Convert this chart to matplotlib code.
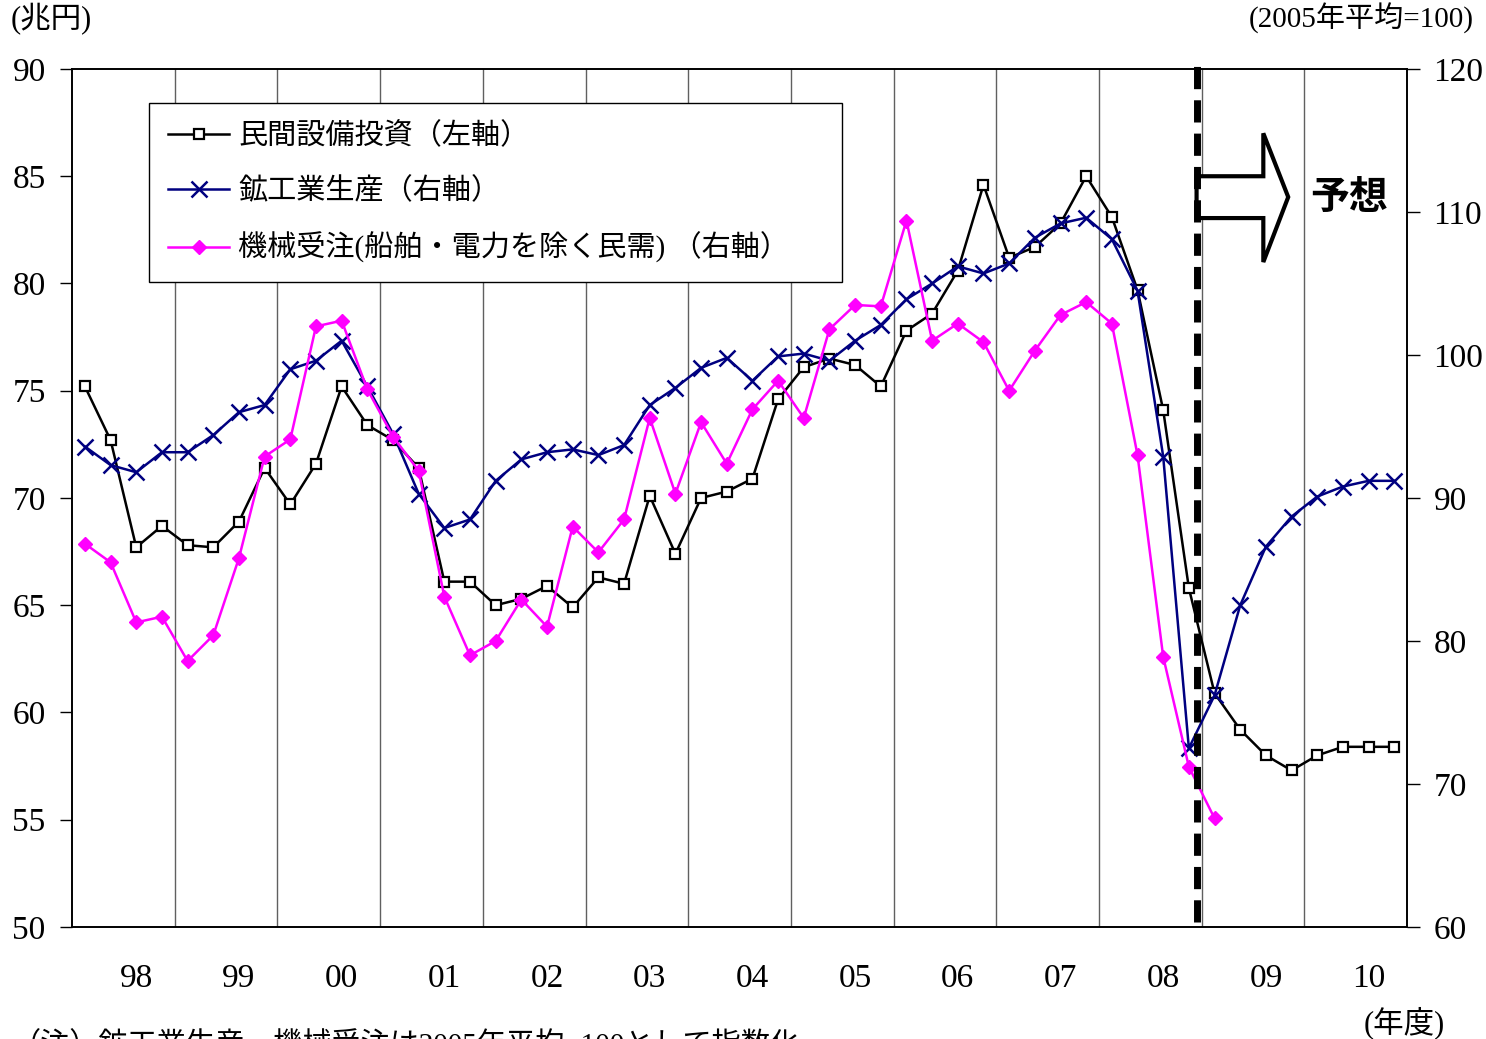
import numpy as np
import matplotlib.pyplot as plt
from matplotlib.patches import Polygon

plt.rcParams['font.family'] = ['Liberation Serif', 'Noto Sans CJK JP', 'DejaVu Sans']

# 年度ラベル（四半期データ、98年度～10年度）
years = ['98', '99', '00', '01', '02', '03', '04', '05', '06', '07', '08', '09', '10']

# 民間設備投資（兆円、左軸）
capex = [75.2, 72.7, 67.7, 68.7, 67.8, 67.7, 68.9, 71.4,
         69.7, 71.6, 75.2, 73.4, 72.7, 71.4, 66.1, 66.1,
         65.0, 65.3, 65.9, 64.9, 66.3, 66.0, 70.1, 67.4,
         70.0, 70.3, 70.9, 74.6, 76.1, 76.5, 76.2, 75.2,
         77.8, 78.6, 80.6, 84.6, 81.2, 81.7, 82.8, 85.0,
         83.1, 79.7, 74.1, 65.8, 60.9, 59.2, 58.0, 57.3,
         58.0, 58.4, 58.4, 58.4]

# 鉱工業生産（2005年平均=100、右軸）
ip = [93.6, 92.3, 91.8, 93.2, 93.2, 94.4, 96.0, 96.5,
      99.0, 99.6, 101.0, 97.8, 94.5, 90.3, 87.9, 88.5,
      91.2, 92.7, 93.2, 93.4, 93.0, 93.7, 96.5, 97.7,
      99.1, 99.8, 98.2, 99.9, 100.1, 99.6, 101.0, 102.1,
      103.9, 105.0, 106.2, 105.7, 106.4, 108.2, 109.2, 109.6,
      108.1, 104.5, 92.9, 72.5, 76.2, 82.5, 86.6, 88.7,
      90.1, 90.8, 91.2, 91.2]

# 機械受注（船舶・電力を除く民需、2005年平均=100、右軸）
orders = [86.8, 85.5, 81.3, 81.7, 78.6, 80.4, 85.8, 92.9,
          94.1, 102.0, 102.4, 97.6, 94.3, 91.9, 83.1, 79.0,
          80.0, 82.9, 81.0, 88.0, 86.2, 88.5, 95.6, 90.3,
          95.3, 92.4, 96.2, 98.2, 95.6, 101.8, 103.5, 103.4,
          109.4, 101.0, 102.2, 100.9, 97.5, 100.3, 102.8, 103.7,
          102.2, 93.0, 78.9, 71.2, 67.6]

q = np.arange(len(capex))
n_years = len(years)

fig = plt.figure(figsize=(14.86, 10.39), dpi=100)
ax = fig.add_axes([0.0485, 0.1078, 0.8984, 0.8258])
ax2 = ax.twinx()

# 年度の区切り線
bounds = np.arange(1, n_years) * 4 - 0.5
ax.set_xticks(bounds)
ax.set_xticklabels([])
ax.tick_params(axis='x', which='major', length=0)
# 年度ラベルは各年度の第3四半期の位置
ax.set_xticks(np.arange(n_years) * 4 + 2, minor=True)
ax.set_xticklabels(years, minor=True)
ax.tick_params(axis='x', which='minor', length=0, pad=26, labelsize=24)
ax.grid(True, axis='x', which='major', color='#606060', linewidth=1)
ax.set_axisbelow(True)

ax.set_xlim(-0.5, len(capex) - 0.5)
ax.set_ylim(50, 90)
ax.set_yticks(np.arange(50, 91, 5))
ax2.set_ylim(60, 120)
ax2.set_yticks(np.arange(60, 121, 10))

for a in (ax, ax2):
    a.tick_params(axis='y', direction='out', length=9, width=1, labelsize=24, pad=10)
    for s in a.spines.values():
        s.set_color('black')
        s.set_linewidth(1.2)

l1, = ax.plot(q, capex, color='black', lw=1.8, marker='s', ms=7,
              mfc='white', mec='black', mew=1.6, label='民間設備投資（左軸）')
l2, = ax2.plot(q, ip, color='#000080', lw=1.8, marker='x', ms=11,
               mew=1.8, label='鉱工業生産（右軸）')
l3, = ax2.plot(np.arange(len(orders)), orders, color='#FF00FF', lw=1.8,
               marker='D', ms=7, label='機械受注(船舶・電力を除く民需) （右軸）')

# 予測開始の破線
ax2.axvline(43.3, ymin=0.006, ymax=1.008, color='black', lw=5,
            dashes=(3.2, 1.6), clip_on=False, zorder=10)

# 予想の矢印
arrow = Polygon([(43.3, 85.0), (45.9, 85.0), (45.9, 87.0), (46.87, 84.03),
                 (45.9, 81.0), (45.9, 83.05), (43.3, 83.05)],
                closed=True, facecolor='white', edgecolor='black', lw=3,
                joinstyle='miter', zorder=5)
ax.add_patch(arrow)
ax.text(49.25, 84.0, '予想', ha='center', va='center', fontsize=28,
        fontweight='bold', family=['Noto Sans CJK JP'])

leg = ax2.legend(handles=[l1, l2, l3], loc='upper left',
                 bbox_to_anchor=(0.0577, 0.5, 0.519, 0.46), mode='expand',
                 borderaxespad=0, frameon=True, fancybox=False,
                 edgecolor='black', handlelength=2.1, handletextpad=0.3,
                 labelspacing=0.93, borderpad=0.65,
                 prop={'family': ['Liberation Serif', 'Noto Sans CJK JP'], 'size': 21})
leg.get_frame().set_linewidth(1)
leg.get_frame().set_alpha(1)

fig.text(0.007, 0.982, '(兆円)', fontsize=22, ha='left', va='center')
fig.text(0.992, 0.982, '(2005年平均=100)', fontsize=21, ha='right', va='center')
fig.text(0.972, 0.016, '(年度)', fontsize=22, ha='right', va='center')
fig.text(0.008, 0.0075, '（注）鉱工業生産、機械受注は2005年平均=100として指数化',
         fontsize=21, ha='left', va='top')

fig.savefig('out.png', dpi=100)
